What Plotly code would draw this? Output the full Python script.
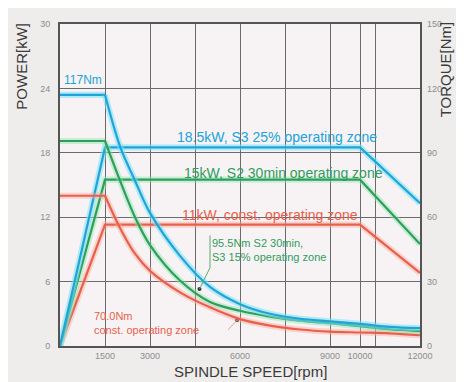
import plotly.graph_objects as go

# ---- data ----
power_rpm = [0, 1500, 10000, 12000]
power_185 = [0, 18.5, 18.5, 13.3]   # kW, S3 25%
power_15 = [0, 15.5, 15.5, 9.5]     # kW, S2 30min
power_11 = [0, 11.3, 11.3, 6.8]     # kW, const.

torque_rpm = [0, 1500, 2000, 2500, 3000, 4000, 5000, 6000, 7000, 8000, 9000, 10000, 11000, 12000]
torque_117 = [117, 117, 93, 77, 62, 42, 27.5, 19.5, 15, 12.7, 11.5, 10.3, 8.9, 8.3]
torque_955 = [95.5, 95.5, 77, 60, 47, 30.5, 20.5, 16.4, 13.7, 11.8, 10.6, 9.3, 7.8, 6.9]
torque_70 = [70, 70, 55, 43, 35, 25, 18, 12.5, 9.5, 7.7, 6.7, 6.3, 5.9, 5.0]

x_tickvals = [1500, 3000, 4500, 6000, 7500, 9000, 10000, 10500, 12000]
x_ticktext = ["1500", "3000", "", "6000", "", "9000", "10000", "", "12000"]
y_tickvals = [0, 6, 12, 18, 24, 30]
y2_tickvals = [0, 30, 60, 90, 120, 150]

CYAN = "#22a3d6"
GREEN = "#2f9d5c"
RED = "#e8604b"
HALO = {CYAN: "rgba(120,225,250,0.55)", GREEN: "rgba(140,230,170,0.45)", RED: "rgba(250,170,160,0.45)"}

fig = go.Figure()

def add_line(x, y, color, axis="y", shape="linear", width=2.2):
    fig.add_trace(go.Scatter(x=x, y=y, mode="lines", yaxis=axis,
                             line=dict(color=HALO[color], width=width + 4, shape=shape, smoothing=0.9),
                             hoverinfo="skip", showlegend=False))
    fig.add_trace(go.Scatter(x=x, y=y, mode="lines", yaxis=axis,
                             line=dict(color=color, width=width, shape=shape, smoothing=0.9),
                             showlegend=False))

# torque curves (right axis)
for vals, col in [(torque_70, RED), (torque_955, GREEN), (torque_117, CYAN)]:
    add_line(torque_rpm[:2], vals[:2], col, axis="y2")
    add_line(torque_rpm[1:], vals[1:], col, axis="y2", shape="spline")

# power curves (left axis)
for vals, col in [(power_11, RED), (power_15, GREEN), (power_185, CYAN)]:
    add_line(power_rpm, vals, col, axis="y")

# pointer dots
fig.add_trace(go.Scatter(x=[4650, 5900], y=[5.3, 2.4], mode="markers", yaxis="y",
                         marker=dict(color="#333333", size=4), showlegend=False))

FONT = "Liberation Sans"
ann = [
    dict(x=50, y=24.8, text="117Nm", color=CYAN, size=12),
    dict(x=3830, y=19.5, text="18.5kW, S3 25% operating zone", color=CYAN, size=14),
    dict(x=4060, y=16.1, text="15kW, S2 30min operating zone", color=GREEN, size=14),
    dict(x=4000, y=12.2, text="11kW, const. operating zone", color=RED, size=14),
    dict(x=5000, y=8.9, text="95.5Nm S2 30min,<br>S3 15% operating zone", color=GREEN, size=11),
    dict(x=1050, y=2.1, text="70.0Nm<br>const. operating zone", color=RED, size=11),
]
for a in ann:
    fig.add_annotation(x=a["x"], y=a["y"], xref="x", yref="y", text=a["text"], showarrow=False,
                       xanchor="left", yanchor="middle", align="left",
                       font=dict(family=FONT, size=a["size"], color=a["color"]))

# pointer lines for the two torque labels
fig.add_shape(type="line", xref="x", yref="y", x0=5000, y0=10.3, x1=5000, y1=7.3,
              line=dict(color="#5aa870", width=1))
fig.add_shape(type="line", xref="x", yref="y", x0=5000, y0=7.3, x1=4650, y1=5.3,
              line=dict(color="#5aa870", width=1))
fig.add_shape(type="line", xref="x", yref="y", x0=5600, y0=1.5, x1=5900, y1=2.4,
              line=dict(color="#e8a080", width=1))

# axis titles
fig.add_annotation(x=-0.106, y=0.87, xref="paper", yref="paper", text="POWER[kW]", textangle=-90,
                   xanchor="center", yanchor="middle",
                   showarrow=False, font=dict(family=FONT, size=15, color="#3a3a3a"))
fig.add_annotation(x=1.07, y=0.86, xref="paper", yref="paper", text="TORQUE[Nm]", textangle=-90,
                   xanchor="center", yanchor="middle",
                   showarrow=False, font=dict(family=FONT, size=15, color="#3a3a3a"))
fig.add_annotation(x=0.53, y=-0.078, xref="paper", yref="paper", text="SPINDLE SPEED[rpm]",
                   showarrow=False, xanchor="center", yanchor="middle",
                   font=dict(family=FONT, size=15, color="#3a3a3a"))

GRID = "#6a6a6a"
TICKF = dict(family=FONT, size=9, color="#8c8c8c")
fig.update_layout(
    width=456, height=374,
    margin=dict(l=52, r=44, t=11, b=36),
    paper_bgcolor="#efedec",
    plot_bgcolor="#f7f3f5",
    xaxis=dict(range=[0, 12000], tickvals=x_tickvals, ticktext=x_ticktext,
               showgrid=True, gridcolor=GRID, gridwidth=1, zeroline=False,
               showline=True, linecolor="#555555", linewidth=2, mirror=True,
               ticks="", tickfont=TICKF, ticklabelstandoff=0),
    yaxis=dict(range=[0, 30], tickvals=y_tickvals, showgrid=True, gridcolor=GRID, gridwidth=1,
               zeroline=False, showline=True, linecolor="#555555", linewidth=2, mirror=True,
               ticks="", tickfont=TICKF, ticklabelstandoff=6),
    yaxis2=dict(range=[0, 150], tickvals=y2_tickvals, overlaying="y", side="right",
                showgrid=False, zeroline=False, ticks="", tickfont=TICKF, ticklabelstandoff=6),
    showlegend=False,
)

fig.write_html("out.html")
